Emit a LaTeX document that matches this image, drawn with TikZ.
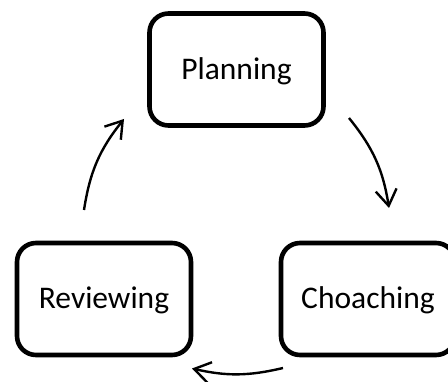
\documentclass[tikz,border=0pt]{standalone}
\usepackage{fontspec}
\setmainfont{Carlito}
\usetikzlibrary{arrows.meta}

\begin{document}
\begin{tikzpicture}[x=1pt,y=1pt,
		stage/.style={draw=black,line width=4.6pt,rounded corners=19pt,minimum width=174pt,minimum height=112pt,inner sep=0pt,font=\fontsize{31.5}{37}\selectfont,text height=20pt,text depth=0pt},
		flow/.style={line width=2.4pt,-{Straight Barb[length=16pt,width=21pt,line width=2.4pt]}}]
				%%%%% START %%%%%
				\def\W{448}
				\def\H{381}
				\useasboundingbox (0,0) rectangle (\W,\H);

				\node[stage] (plan) at (236.5,311.5) {Planning};
				\node[stage] (rev) at (104,82) {Reviewing};
				\node[stage] (coach) at (368,82) {Choaching};

				\coordinate (pc1) at (349,263);
				\coordinate (pc2) at (389,173);
				\coordinate (cr1) at (283,13);
				\coordinate (cr2) at (192,12.5);
				\coordinate (rp1) at (84,171);
				\coordinate (rp2) at (124,262);

				\draw[flow] (pc1) to[bend left=15] (pc2);
				\draw[flow] (cr1) to[bend left=13] (cr2);
				\draw[flow] (rp1) to[bend left=15] (rp2);
				%%%%% START %%%%%
			\end{tikzpicture}
\end{document}
